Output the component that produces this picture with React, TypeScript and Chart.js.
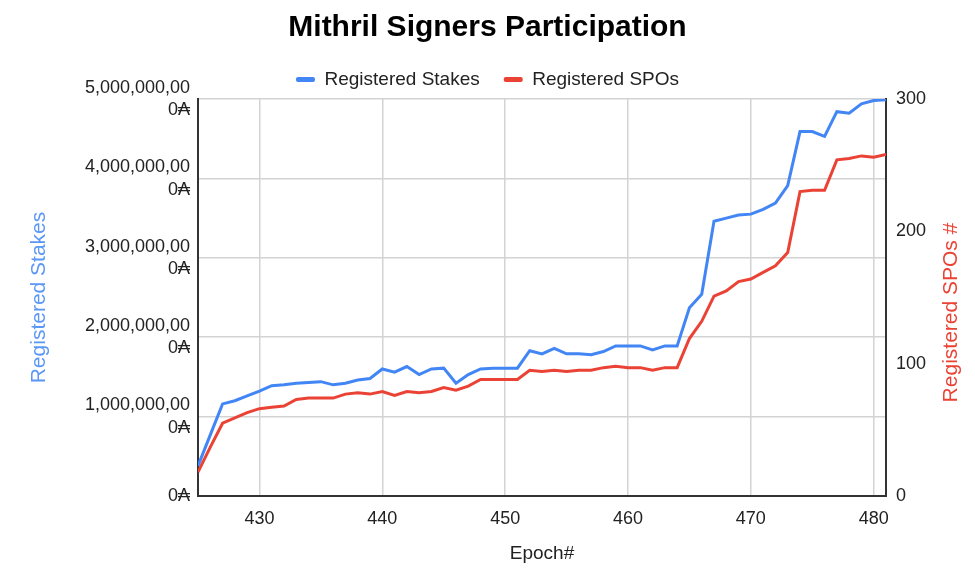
import React, { useEffect, useRef } from "react";
import { Chart, registerables } from "chart.js";

Chart.register(...registerables);

const TITLE = "Mithril Signers Participation";
const X_TITLE = "Epoch#";
const LEFT_TITLE = "Registered Stakes";
const RIGHT_TITLE = "Registered SPOs #";
const SERIES_NAMES = ["Registered Stakes", "Registered SPOs"];

const epochs = [
  425, 426, 427, 428, 429, 430, 431, 432, 433, 434, 435, 436, 437, 438, 439,
  440, 441, 442, 443, 444, 445, 446, 447, 448, 449, 450, 451, 452, 453, 454,
  455, 456, 457, 458, 459, 460, 461, 462, 463, 464, 465, 466, 467, 468, 469,
  470, 471, 472, 473, 474, 475, 476, 477, 478, 479, 480, 481,
];

// Registered stakes in ADA
const registeredStakes = [
  380000000, 770000000, 1160000000, 1200000000, 1260000000, 1320000000,
  1390000000, 1400000000, 1420000000, 1430000000, 1440000000, 1400000000,
  1420000000, 1460000000, 1480000000, 1600000000, 1560000000, 1630000000,
  1530000000, 1600000000, 1610000000, 1420000000, 1530000000, 1600000000,
  1610000000, 1610000000, 1610000000, 1830000000, 1790000000, 1860000000,
  1790000000, 1790000000, 1780000000, 1820000000, 1890000000, 1890000000,
  1890000000, 1840000000, 1890000000, 1890000000, 2370000000, 2540000000,
  3460000000, 3500000000, 3540000000, 3550000000, 3610000000, 3690000000,
  3910000000, 4590000000, 4590000000, 4530000000, 4840000000, 4820000000,
  4940000000, 4980000000, 4990000000,
];

const registeredSPOs = [
  18, 37, 55, 59, 63, 66, 67, 68, 73, 74, 74, 74, 77, 78, 77, 79, 76, 79, 78,
  79, 82, 80, 83, 88, 88, 88, 88, 95, 94, 95, 94, 95, 95, 97, 98, 97, 97, 95,
  97, 97, 119, 132, 151, 155, 162, 164, 169, 174, 184, 230, 231, 231, 254, 255,
  257, 256, 258,
];

const X_MIN = 425;
const X_MAX = 481;
const X_STEP = 10;
const LEFT_MAX = 5000000000;
const LEFT_STEP = 1000000000;
const RIGHT_MAX = 300;
const RIGHT_STEP = 100;

const BLUE = "#4285f4";
const RED = "#ea4335";
const BLUE_TITLE = "#5b97f6";
const RED_TITLE = "#ea4335";
const FONT = '"Liberation Sans", Arial, Helvetica, sans-serif';

const stakeLabel = (v: number) => {
  const s = Number(v).toLocaleString("en-US") + "\u20B3";
  if (s.length <= 2) return s;
  return [s.slice(0, -2), s.slice(-2)];
};

const rightTitlePlugin = {
  id: "rightTitle",
  afterDraw(chart: any) {
    const { ctx, chartArea } = chart;
    const scale = chart.scales.y1;
    ctx.save();
    ctx.translate(scale.right - 24, (chartArea.top + chartArea.bottom) / 2 + 15);
    ctx.rotate(-Math.PI / 2);
    ctx.font = `21px ${FONT}`;
    ctx.fillStyle = RED_TITLE;
    ctx.textAlign = "center";
    ctx.textBaseline = "middle";
    ctx.fillText(RIGHT_TITLE, 0, 0);
    ctx.restore();
  },
};

export default function App() {
  const ref = useRef<HTMLCanvasElement | null>(null);

  useEffect(() => {
    if (!ref.current) return;
    const chart = new Chart(ref.current, {
      type: "line",
      data: {
        datasets: [
          {
            label: SERIES_NAMES[0],
            data: epochs.map((e, i) => ({ x: e, y: registeredStakes[i] })),
            borderColor: BLUE,
            backgroundColor: BLUE,
            borderWidth: 3,
            pointRadius: 0,
            tension: 0,
            yAxisID: "y",
          },
          {
            label: SERIES_NAMES[1],
            data: epochs.map((e, i) => ({ x: e, y: registeredSPOs[i] })),
            borderColor: RED,
            backgroundColor: RED,
            borderWidth: 3,
            pointRadius: 0,
            tension: 0,
            yAxisID: "y1",
          },
        ],
      },
      options: {
        animation: false,
        responsive: false,
        layout: { padding: 0 },
        plugins: {
          title: {
            display: true,
            text: TITLE,
            color: "#000",
            font: { family: FONT, size: 30, weight: "bold", lineHeight: 1.2 },
            padding: { top: 10, bottom: 0 },
          },
          legend: {
            position: "top",
            labels: {
              color: "#222",
              font: { family: FONT, size: 19 },
              boxWidth: 19,
              boxHeight: 5,
              padding: 24,
              useBorderRadius: true,
              borderRadius: 2,
              generateLabels: (c: any) =>
                (Chart.defaults.plugins.legend.labels as any)
                  .generateLabels(c)
                  .map((l: any) => ({ ...l, lineWidth: 0 })),
            },
          },
          tooltip: { enabled: false },
        },
        scales: {
          x: {
            type: "linear",
            min: X_MIN,
            max: X_MAX,
            afterBuildTicks: (scale: any) => {
              scale.ticks = scale.ticks.filter((t: any) => t.value % X_STEP === 0);
            },
            afterFit: (scale: any) => {
              scale.height = 87;
            },
            ticks: {
              stepSize: X_STEP,
              includeBounds: false,
              color: "#222",
              font: { family: FONT, size: 18 },
              padding: 12,
              maxRotation: 0,
            },
            grid: { color: "#d3d3d3", lineWidth: 1.5, drawTicks: false },
            border: { color: "#333", width: 2 },
            title: {
              display: true,
              text: X_TITLE,
              color: "#222",
              font: { family: FONT, size: 19 },
              padding: { top: 0, bottom: 18 },
            },
          },
          y: {
            type: "linear",
            position: "left",
            min: 0,
            max: LEFT_MAX,
            afterFit: (scale: any) => {
              scale.width = 198;
            },
            ticks: {
              stepSize: LEFT_STEP,
              color: "#222",
              font: { family: FONT, size: 18, lineHeight: 1.25 },
              padding: 8,
              callback: (v: any) => stakeLabel(v),
            },
            grid: { color: "#d3d3d3", lineWidth: 1.5, drawTicks: false },
            border: { color: "#333", width: 2 },
            title: {
              display: true,
              text: LEFT_TITLE,
              color: BLUE_TITLE,
              font: { family: FONT, size: 21 },
              padding: { top: 27, bottom: 0 },
            },
          },
          y1: {
            type: "linear",
            position: "right",
            min: 0,
            max: RIGHT_MAX,
            afterFit: (scale: any) => {
              scale.width = 89;
            },
            ticks: {
              stepSize: RIGHT_STEP,
              color: "#222",
              font: { family: FONT, size: 18 },
              padding: 10,
            },
            grid: { drawOnChartArea: false, drawTicks: false },
            border: { color: "#333", width: 2 },
          },
        },
      } as any,
      plugins: [rightTitlePlugin],
    });
    return () => chart.destroy();
  }, []);

  return (
    <div style={{ position: "fixed", left: 0, top: 0, width: 975, height: 583, background: "#fff" }}>
      <canvas ref={ref} width={975} height={583} style={{ width: 975, height: 583 }} />
    </div>
  );
}
